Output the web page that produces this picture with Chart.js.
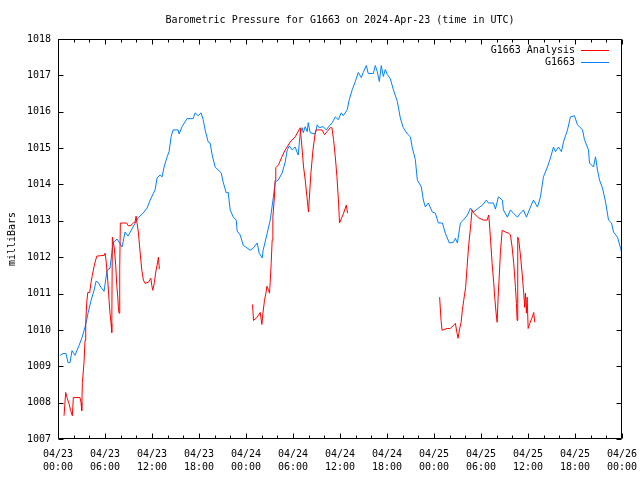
<!DOCTYPE html>
<html><head><meta charset="utf-8">
<script src="https://cdn.jsdelivr.net/npm/chart.js@4/dist/chart.umd.min.js"></script>
<style>html,body{margin:0;padding:0;background:#fff}</style>
</head><body>
<canvas id="c" width="640" height="480"></canvas>
<script>
// ---- data (hours since 2024-04-23 00:00 UTC, pressure in milliBars) ----
const chartTitle = 'Barometric Pressure for G1663 on 2024-Apr-23 (time in UTC)';
const yAxisTitle = 'milliBars';
const seriesNames = ['G1663 Analysis', 'G1663'];

const xTickDates = ['04/23','04/23','04/23','04/23','04/24','04/24','04/24','04/24','04/25','04/25','04/25','04/25','04/26'];
const xTickTimes = ['00:00','06:00','12:00','18:00','00:00','06:00','12:00','18:00','00:00','06:00','12:00','18:00','00:00'];

const blueHours = [0.26,0.64,1.02,1.28,1.53,1.79,2.17,2.68,3.07,3.58,
3.83,4.22,4.60,4.86,5.11,5.49,5.88,6.26,6.64,7.03,
7.54,8.18,8.56,8.94,9.58,10.22,10.86,11.37,11.76,12.39,
12.65,13.03,13.29,13.54,13.93,14.18,14.44,14.69,15.33,15.46,
15.84,16.48,17.25,17.51,17.89,18.27,18.53,18.78,19.17,19.42,
19.68,20.06,20.44,20.83,21.08,21.47,21.72,21.98,22.36,22.75,
22.87,23.26,23.64,24.15,24.53,24.92,25.43,25.68,26.07,26.19,
26.71,27.09,27.48,27.73,28.11,28.62,29.01,29.26,29.52,29.90,
30.28,30.54,30.67,30.92,31.18,31.31,31.56,31.82,31.94,32.20,
32.84,33.09,33.35,33.86,34.25,34.63,35.01,35.40,35.78,36.16,
36.42,36.93,37.18,37.57,37.95,38.33,38.72,38.97,39.36,39.61,
40.25,40.51,40.76,41.02,41.27,41.53,41.78,42.04,42.42,42.81,
43.32,43.70,44.08,44.60,44.98,45.23,45.62,45.87,46.38,46.64,
46.89,47.28,47.79,48.17,48.56,49.07,49.45,49.96,50.47,50.73,
50.99,51.37,51.75,52.27,52.65,53.03,53.67,54.18,54.69,54.95,
55.59,55.84,56.22,56.73,56.86,57.37,57.76,58.14,58.65,59.03,
59.42,59.80,60.31,60.70,61.21,61.59,61.97,62.48,62.87,63.25,
63.51,63.89,64.27,64.53,65.04,65.42,65.93,66.32,66.96,67.21,
67.72,67.85,68.36,68.62,68.87,69.13,69.51,69.90,70.28,70.66,
70.92,71.43,71.81,71.94];
const bluePressure = [1009.30,1009.35,1009.35,1009.10,1009.10,1009.43,1009.30,1009.57,1009.79,1010.18,
1010.46,1010.81,1011.09,1011.34,1011.31,1011.17,1011.06,1011.64,1011.70,1012.39,
1012.50,1012.28,1012.69,1012.58,1012.83,1013.08,1013.21,1013.35,1013.57,1013.85,
1014.18,1014.26,1014.21,1014.48,1014.76,1014.90,1015.31,1015.50,1015.50,1015.39,
1015.59,1015.81,1015.81,1015.97,1015.89,1015.97,1015.78,1015.50,1015.17,1015.14,
1014.81,1014.48,1014.40,1014.32,1014.07,1013.77,1013.79,1013.30,1013.11,1013.02,
1012.72,1012.61,1012.33,1012.25,1012.19,1012.25,1012.39,1012.11,1011.98,1012.19,
1012.66,1013.02,1013.63,1014.07,1014.12,1014.32,1014.62,1014.95,1015.06,1014.95,
1015.03,1014.87,1014.81,1015.42,1015.56,1015.42,1015.59,1015.45,1015.70,1015.42,
1015.39,1015.64,1015.56,1015.59,1015.50,1015.61,1015.70,1015.86,1015.78,1015.97,
1015.89,1016.06,1016.33,1016.61,1016.83,1017.08,1016.94,1017.08,1017.27,1017.05,
1017.05,1017.27,1017.10,1016.83,1017.27,1016.97,1017.16,1017.02,1016.91,1016.61,
1016.28,1015.83,1015.56,1015.39,1015.31,1015.01,1014.68,1014.12,1013.93,1013.57,
1013.38,1013.49,1013.24,1013.21,1012.94,1012.94,1012.66,1012.39,1012.41,1012.52,
1012.39,1012.94,1013.02,1013.16,1013.35,1013.24,1013.35,1013.43,1013.57,1013.49,
1013.49,1013.32,1013.66,1013.57,1013.30,1013.10,1013.30,1013.21,1013.10,1013.21,
1013.30,1013.10,1013.38,1013.57,1013.38,1013.66,1014.21,1014.48,1014.73,1015.03,
1014.90,1015.03,1014.90,1015.17,1015.50,1015.86,1015.89,1015.64,1015.50,1015.23,
1014.95,1014.59,1014.48,1014.76,1014.40,1014.12,1013.90,1013.52,1013.02,1012.94,
1012.69,1012.55,1012.25,1012.14];

// analysis series, null marks a gap in the record
const redHours = [0.77,0.98,1.15,1.41,1.62,1.83,1.96,2.81,2.94,3.03,
3.11,3.32,3.45,3.54,3.67,3.80,4.05,4.22,4.38,4.64,
4.95,5.92,6.01,6.13,6.35,6.52,6.64,6.77,6.86,6.94,
7.07,7.19,7.37,7.50,7.63,7.71,7.79,7.88,7.96,8.34,
8.78,8.98,9.33,9.62,9.84,9.97,10.09,10.26,10.48,10.70,
10.90,11.12,11.54,11.85,11.97,12.10,12.31,12.48,12.65,12.82,12.94,
18.00,
24.83,24.96,25.39,25.81,26.03,26.16,26.36,26.54,26.67,26.87,
27.00,27.09,27.22,27.34,27.43,27.60,27.73,27.80,28.15,28.58,
29.01,29.65,30.28,30.92,31.14,31.35,31.56,31.78,31.98,32.11,
32.29,32.55,32.84,32.97,33.70,34.03,34.33,34.75,34.97,35.18,
35.40,35.61,35.82,35.94,36.25,36.46,36.80,36.97,
42.00,
48.72,48.90,49.03,49.67,50.09,50.73,50.95,51.07,51.24,51.46,
51.62,51.79,52.04,52.22,52.43,52.65,52.86,53.06,53.70,54.34,
54.78,54.98,55.07,55.20,55.42,55.62,55.75,55.93,56.06,56.18,
56.35,56.48,56.70,57.12,57.54,57.76,57.97,58.18,58.40,58.52,
58.61,58.69,58.82,59.03,59.25,59.45,59.58,59.67,59.80,59.89,
60.02,60.22,60.53,60.73,60.86];
const redPressure = [1007.64,1008.28,1008.14,1007.97,1007.78,1007.64,1008.14,1008.14,1008.00,1007.78,
1008.55,1009.10,1009.71,1010.18,1010.76,1011.03,1011.03,1011.31,1011.50,1011.78,
1012.03,1012.05,1012.11,1011.92,1011.37,1010.81,1010.46,1010.18,1009.93,1012.55,
1012.39,1012.25,1011.78,1011.23,1010.90,1010.62,1010.46,1011.70,1012.94,1012.94,
1012.94,1012.86,1012.88,1012.94,1012.97,1013.13,1012.94,1012.69,1012.14,1011.64,
1011.37,1011.28,1011.31,1011.42,1011.23,1011.09,1011.31,1011.59,1011.78,1012.00,1011.67,
null,
1010.70,1010.26,1010.34,1010.48,1010.15,1010.46,1010.81,1011.01,1011.20,1011.09,
1011.01,1011.31,1011.86,1012.47,1013.10,1013.57,1014.12,1014.46,1014.54,1014.76,
1014.95,1015.17,1015.31,1015.56,1015.03,1014.48,1014.12,1013.66,1013.24,1013.71,
1014.32,1014.95,1015.42,1015.50,1015.50,1015.37,1015.45,1015.56,1015.56,1015.23,
1014.76,1014.21,1013.49,1012.94,1013.10,1013.21,1013.43,1013.21,
null,
1010.90,1010.26,1009.99,1010.04,1010.04,1010.18,1009.90,1009.77,1009.99,1010.21,
1010.54,1010.81,1011.17,1011.72,1012.33,1012.80,1013.30,1013.21,1013.08,1013.02,
1013.02,1013.16,1012.94,1012.55,1011.83,1011.31,1010.90,1010.46,1010.21,1010.87,
1011.56,1012.14,1012.74,1012.69,1012.66,1012.61,1012.28,1011.83,1011.17,1010.73,
1010.26,1012.55,1012.47,1012.06,1011.56,1011.01,1010.62,1011.01,1010.46,1010.90,
1010.04,1010.18,1010.34,1010.48,1010.21];

const xMin = 0, xMax = 72, xMajorStep = 6, xMinorStep = 2;
const yMin = 1007, yMax = 1018, yStep = 1;

// ---- chart ----
const FONT = "'DejaVu Sans Mono', 'Liberation Mono', monospace";
Chart.defaults.font.family = FONT;
Chart.defaults.font.size = 10;
Chart.defaults.color = '#000';

const toPoints = (xs, ys) => xs.map((x, i) => ({x: x, y: ys[i]}));

const frame = {
  id: 'frame',
  afterDraw(chart) {
    const {ctx, chartArea: a, scales} = chart;
    const xs = scales.x, ys = scales.y;
    const L = Math.round(a.left) + 0.5, R = Math.round(a.right) - 0.5;
    const T = Math.round(a.top) + 0.5, B = Math.round(a.bottom) - 0.5;
    ctx.save();
    ctx.strokeStyle = '#000';
    ctx.lineWidth = 1;
    ctx.beginPath();
    ctx.rect(L, T, R - L, B - T);
    for (let h = xMin; h <= xMax; h += xMinorStep) {
      const px = Math.round(xs.getPixelForValue(h)) + 0.5;
      const len = (h % xMajorStep === 0) ? 5 : 3;
      ctx.moveTo(px, B); ctx.lineTo(px, B - len);
      ctx.moveTo(px, T); ctx.lineTo(px, T + len);
    }
    for (let v = yMin; v <= yMax; v += yStep) {
      const py = Math.round(ys.getPixelForValue(v)) + 0.5;
      ctx.moveTo(L, py); ctx.lineTo(L + 5, py);
      ctx.moveTo(R, py); ctx.lineTo(R - 5, py);
    }
    ctx.stroke();
    // key (legend), top right inside the plot
    ctx.font = '10px ' + FONT;
    ctx.textAlign = 'right';
    ctx.textBaseline = 'middle';
    chart.data.datasets.forEach((ds, i) => {
      const y = a.top + 11 + i * 12;
      ctx.fillStyle = '#000';
      ctx.fillText(ds.label, a.right - 47, y);
      ctx.strokeStyle = ds.borderColor;
      ctx.beginPath();
      ctx.moveTo(a.right - 41, Math.round(y) + 0.5);
      ctx.lineTo(a.right - 13, Math.round(y) + 0.5);
      ctx.stroke();
    });
    ctx.restore();
  }
};

new Chart(document.getElementById('c'), {
  type: 'line',
  data: {
    datasets: [
      {label: seriesNames[0], data: toPoints(redHours, redPressure), borderColor: '#ff0000',
       borderWidth: 1, pointRadius: 0, tension: 0, spanGaps: false, order: 1},
      {label: seriesNames[1], data: toPoints(blueHours, bluePressure), borderColor: '#0080ff',
       borderWidth: 1, pointRadius: 0, tension: 0, order: 2}
    ]
  },
  options: {
    responsive: false,
    animation: false,
    events: [],
    layout: {padding: {top: 0, right: 18, bottom: 0, left: 0}},
    plugins: {
      legend: {display: false},
      tooltip: {enabled: false},
      title: {display: true, text: chartTitle, fullSize: false, color: '#000',
              font: {size: 10, weight: 'normal', family: FONT, lineHeight: 1.2},
              padding: {top: 14, bottom: 13}}
    },
    scales: {
      x: {
        type: 'linear', min: xMin, max: xMax,
        grid: {display: false, drawTicks: true, tickLength: 9},
        border: {display: false},
        ticks: {stepSize: xMajorStep, autoSkip: false, maxRotation: 0, padding: 0,
                font: {size: 10, family: FONT, lineHeight: 1.3},
                callback: (v, i) => [xTickDates[i], xTickTimes[i]]},
        afterFit: s => { s.height = 41; }
      },
      y: {
        min: yMin, max: yMax,
        grid: {display: false, drawTicks: true, tickLength: 7},
        border: {display: false},
        ticks: {stepSize: yStep, padding: 0, font: {size: 10, family: FONT},
                callback: v => String(v)},
        title: {display: true, text: yAxisTitle, padding: {top: 6, bottom: 0},
                font: {size: 10, family: FONT}},
        afterFit: s => { s.width = 58; }
      }
    }
  },
  plugins: [frame]
});
</script>
</body></html>
